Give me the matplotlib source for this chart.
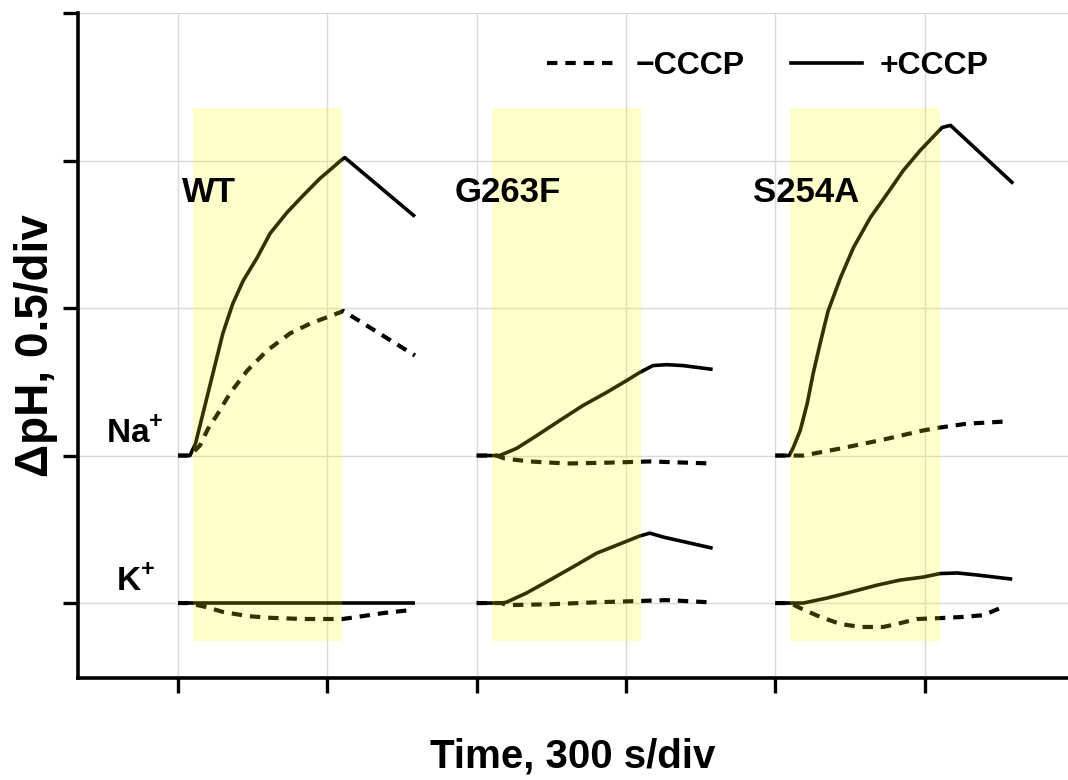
import matplotlib
matplotlib.use("Agg")
import matplotlib.pyplot as plt
from matplotlib.lines import Line2D
import numpy as np

# ---------------- data ----------------
panels = ["WT", "G263F", "S254A"]
panel_offsets = [0, 600, 1200]          # s, start of each panel
ion_labels = ["Na$^{\\mathbf{+}}$", "K$^{\\mathbf{+}}$"]
ion_baselines = [0.5, 0.0]               # ΔpH baseline of each ion row
stim_start, stim_end = 30, 330           # s within each panel (yellow band)

# WT
wt_na_plus_t = [0, 24, 35, 50, 70, 90, 110, 131, 159, 185, 219, 251, 285, 310, 329, 335, 476]
wt_na_plus_v = [0, 0, 0.04, 0.142, 0.278, 0.414, 0.515, 0.593, 0.671, 0.753, 0.824, 0.881, 0.939, 0.975, 1.003, 1.010, 0.810]
wt_na_minus_t = [0, 24, 44, 60, 80, 104, 139, 179, 225, 265, 325, 332, 476]
wt_na_minus_v = [0, 0, 0.034, 0.09, 0.142, 0.21, 0.288, 0.356, 0.414, 0.447, 0.485, 0.49, 0.339]
wt_k_plus_t = [0, 476]
wt_k_plus_v = [0, 0]
wt_k_minus_t = [0, 20, 58, 90, 139, 185, 251, 299, 331, 372, 412, 466]
wt_k_minus_v = [0, 0, -0.014, -0.03, -0.044, -0.05, -0.054, -0.054, -0.054, -0.044, -0.034, -0.024]

# G263F
g_na_plus_t = [0, 46, 80, 121, 167, 213, 261, 301, 327, 354, 382, 414, 474]
g_na_plus_v = [0, 0, 0.024, 0.068, 0.119, 0.169, 0.214, 0.254, 0.281, 0.305, 0.308, 0.305, 0.292]
g_na_minus_t = [0, 40, 56, 106, 181, 267, 348, 474]
g_na_minus_v = [0, 0, -0.01, -0.02, -0.027, -0.024, -0.02, -0.027]
g_k_plus_t = [0, 50, 60, 100, 147, 193, 241, 287, 327, 348, 374, 474]
g_k_plus_v = [0, 0, 0.003, 0.034, 0.078, 0.122, 0.169, 0.2, 0.227, 0.237, 0.224, 0.186]
g_k_minus_t = [0, 50, 60, 147, 247, 327, 381, 464]
g_k_minus_v = [0, 0, -0.007, -0.004, 0.003, 0.007, 0.01, 0.003]

# S254A
s_na_plus_t = [0, 28, 36, 50, 64, 76, 90, 106, 131, 157, 191, 225, 257, 291, 335, 352, 478]
s_na_plus_v = [0, 0, 0.027, 0.085, 0.176, 0.278, 0.38, 0.49, 0.603, 0.705, 0.807, 0.888, 0.966, 1.034, 1.112, 1.119, 0.922]
s_na_minus_t = [0, 40, 56, 131, 217, 297, 331, 385, 458]
s_na_minus_v = [0, 0, 0.0, 0.024, 0.054, 0.085, 0.095, 0.108, 0.115]
s_k_plus_t = [0, 50, 56, 104, 151, 205, 251, 297, 331, 366, 406, 476]
s_k_plus_v = [0, 0, 0.0, 0.017, 0.037, 0.061, 0.078, 0.088, 0.1, 0.102, 0.095, 0.081]
s_k_minus_t = [0, 30, 50, 90, 131, 171, 217, 251, 285, 331, 378, 418, 452]
s_k_minus_v = [0, 0, -0.017, -0.047, -0.071, -0.081, -0.081, -0.068, -0.054, -0.051, -0.047, -0.041, -0.017]

traces = {
    "WT": {"Na": [(wt_na_minus_t, wt_na_minus_v), (wt_na_plus_t, wt_na_plus_v)],
           "K": [(wt_k_minus_t, wt_k_minus_v), (wt_k_plus_t, wt_k_plus_v)]},
    "G263F": {"Na": [(g_na_minus_t, g_na_minus_v), (g_na_plus_t, g_na_plus_v)],
              "K": [(g_k_minus_t, g_k_minus_v), (g_k_plus_t, g_k_plus_v)]},
    "S254A": {"Na": [(s_na_minus_t, s_na_minus_v), (s_na_plus_t, s_na_plus_v)],
              "K": [(s_k_minus_t, s_k_minus_v), (s_k_plus_t, s_k_plus_v)]},
}
legend_labels = ["\u2212CCCP", "+CCCP"]

# ---------------- style ----------------
plt.rcParams["font.family"] = ["Liberation Sans", "DejaVu Sans"]
plt.rcParams["mathtext.fontset"] = "custom"
plt.rcParams["mathtext.rm"] = "Liberation Sans:bold"
plt.rcParams["mathtext.bf"] = "Liberation Sans:bold"

fig = plt.figure(figsize=(10.68, 7.8), dpi=100)
ax = fig.add_axes([78 / 1068, 102 / 780, 1 - 78 / 1068, (678 - 13) / 780])

ax.set_xlim(-201, 1788)
ax.set_ylim(-0.254, 2.0)
ax.set_xticks(np.arange(0, 1501, 300))
ax.set_yticks([0, 0.5, 1.0, 1.5, 2.0])
ax.set_xticklabels([])
ax.set_yticklabels([])
ax.grid(True, color="#d9d9d9", lw=1.0, zorder=0)
ax.set_axisbelow(True)
for s in ["top", "right"]:
    ax.spines[s].set_visible(False)
for s in ["left", "bottom"]:
    ax.spines[s].set_linewidth(2.6)
ax.tick_params(direction="out", length=11, width=2.4, color="black")

dash_style = (0, (2.5, 1.9))
for name, off in zip(panels, panel_offsets):
    for ion, base in zip(["Na", "K"], ion_baselines):
        (tm, vm), (tp, vp) = traces[name][ion]
        ax.plot(np.array(tm) + off, np.array(vm) + base, color="black",
                lw=3.0, linestyle=dash_style, zorder=2, dash_capstyle="butt")
        ax.plot(np.array(tp) + off, np.array(vp) + base, color="black",
                lw=2.6, zorder=2, solid_capstyle="butt", solid_joinstyle="round")
    ax.fill_between([off + stim_start, off + stim_end], -0.129, 1.678,
                    color=(1, 1, 0), alpha=0.2, lw=0, zorder=3)

# panel labels
label_x = [8, 556, 1156]
for name, lx in zip(panels, label_x):
    ax.text(lx, 1.359, name, fontsize=25, fontweight="bold", ha="left",
            va="baseline", zorder=5)

# ion labels
for lab, base in zip(ion_labels, ion_baselines):
    ax.text(-86, base + 0.042, lab, fontsize=24, fontweight="bold",
            ha="center", va="baseline", zorder=5)

ax.set_xlabel("Time, 300 s/div", fontsize=29, fontweight="bold")
ax.xaxis.label.set_va("center")
ax.xaxis.set_label_coords(0.5, (678 - 757) / 665)
ax.set_ylabel("\u0394pH, 0.5/div", fontsize=33, fontweight="bold")
ax.yaxis.label.set_va("center")
ax.yaxis.set_label_coords((36 - 78) / 990, 0.5)

handles = [Line2D([], [], color="black", lw=3.0, linestyle=dash_style),
           Line2D([], [], color="black", lw=2.6)]
leg = fig.legend(handles, legend_labels, loc="center left",
                 bbox_to_anchor=(547 / 1068, 1 - 66 / 780), ncol=2,
                 frameon=False, handlelength=2.2, handletextpad=0.58,
                 columnspacing=1.45, borderpad=0, borderaxespad=0,
                 prop={"weight": "bold", "size": 23})

fig.savefig("out.png", dpi=100)
